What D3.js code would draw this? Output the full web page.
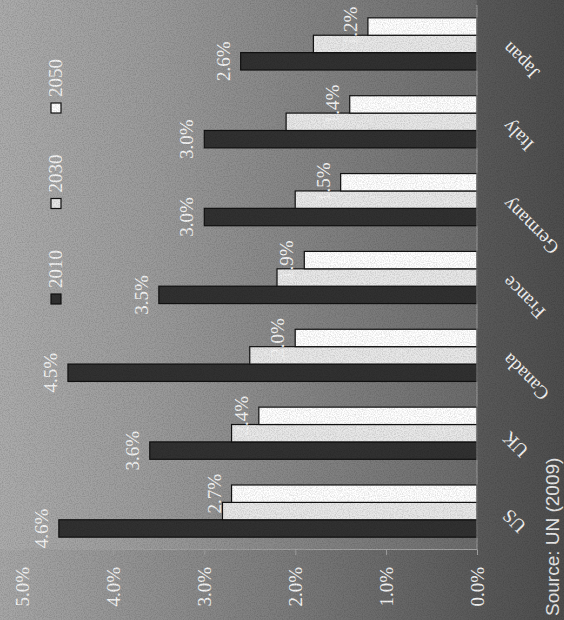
<!DOCTYPE html>
<html>
<head>
<meta charset="utf-8">
<script src="https://cdn.jsdelivr.net/npm/d3@7"></script>
<style>
  html, body { margin: 0; padding: 0; background: #777; }
  svg { display: block; }
</style>
</head>
<body>
<svg id="chart" width="564" height="620"></svg>
<script>
// ---- data ----
const categories = ["US", "UK", "Canada", "France", "Germany", "Italy", "Japan"];
const seriesNames = ["2010", "2030", "2050"];
const values2010 = [4.6, 3.6, 4.5, 3.5, 3.0, 3.0, 2.6];
const values2030 = [2.8, 2.7, 2.5, 2.2, 2.0, 2.1, 1.8];
const values2050 = [2.7, 2.4, 2.0, 1.9, 1.5, 1.4, 1.2];
const tickValues = [0, 1, 2, 3, 4, 5];
const sourceText = "Source: UN (2009)";

const seriesValues = [values2010, values2030, values2050];
const labelledSeries = [0, 2]; // 2010 and 2050 carry data labels
const fills = ["#313131", "#e8e8e8", "#ffffff"];

// ---- layout (chart drawn in its own frame, then turned a quarter turn) ----
const W = 620, H = 564;           // unrotated frame
const svg = d3.select("#chart");
const defs = svg.append("defs");

const outerGrad = defs.append("linearGradient").attr("id", "outerGrad")
  .attr("x1", 0).attr("y1", 0).attr("x2", 0).attr("y2", 1);
[[0, "#a7a7a7"], [0.5, "#7c7c7c"], [0.84, "#5a5a5a"], [1, "#4d4d4d"]]
  .forEach(([o, c]) => outerGrad.append("stop").attr("offset", o).attr("stop-color", c));

const plotGrad = defs.append("linearGradient").attr("id", "plotGrad")
  .attr("x1", 0).attr("y1", 0).attr("x2", 0).attr("y2", 1);
[[0, "#acacac"], [0.32, "#9b9b9b"], [0.63, "#858585"], [0.84, "#777777"], [1, "#6b6b6b"]]
  .forEach(([o, c]) => plotGrad.append("stop").attr("offset", o).attr("stop-color", c));

const noise = defs.append("filter").attr("id", "noise")
  .attr("x", 0).attr("y", 0).attr("width", "100%").attr("height", "100%");
noise.append("feTurbulence").attr("type", "fractalNoise")
  .attr("baseFrequency", 0.85).attr("numOctaves", 2).attr("seed", 3).attr("result", "t");
noise.append("feColorMatrix").attr("type", "matrix")
  .attr("values", "0 0 0 0 0  0 0 0 0 0  0 0 0 0 0  0 0 0 -1.6 1.0");

// frame x runs up the screen, frame y runs to the right
const g = svg.append("g").attr("transform", `translate(0,${W}) rotate(-90)`);

g.append("rect").attr("x", 0).attr("y", 0).attr("width", W).attr("height", H)
  .attr("fill", "url(#outerGrad)");

const plot = { left: 70, right: 615, top: 0, bottom: 477 };

g.append("rect").attr("x", plot.left).attr("y", -5)
  .attr("width", W - plot.left + 5).attr("height", plot.bottom + 5)
  .attr("fill", "url(#plotGrad)");

// scales
const y = d3.scaleLinear().domain([0, 5]).range([plot.bottom, 22.5]);
const x0 = d3.scaleBand().domain(categories).range([plot.left, plot.right])
  .paddingInner(0.33).paddingOuter(0.165);
const x1 = d3.scaleBand().domain(seriesNames).range([0, x0.bandwidth()]).padding(0);

const serif = "'Liberation Serif', 'Times New Roman', Times, serif";
const textColor = "#f4f4f4";

// value axis
const yAxis = d3.axisLeft(y).tickValues(tickValues).tickSize(5).tickSizeOuter(0)
  .tickPadding(12).tickFormat(d => d.toFixed(1) + "%");
const ya = g.append("g").attr("transform", `translate(${plot.left},0)`).call(yAxis);
ya.select(".domain").attr("stroke", "#a2a2a2").attr("stroke-width", 1);
ya.selectAll(".tick line").attr("stroke", "#a2a2a2");
ya.selectAll(".tick text").attr("fill", textColor).attr("font-family", serif)
  .attr("font-size", 19);

// bars
const groups = g.append("g").selectAll("g").data(categories).join("g")
  .attr("transform", d => `translate(${x0(d)},0)`);

groups.each(function (cat, ci) {
  const grp = d3.select(this);
  seriesNames.forEach((s, si) => {
    const v = seriesValues[si][ci];
    grp.append("rect")
      .attr("x", x1(s)).attr("y", y(v))
      .attr("width", x1.bandwidth()).attr("height", y(0) - y(v))
      .attr("fill", fills[si]).attr("stroke", "#111").attr("stroke-width", 1.2);
  });
});

// data labels
groups.each(function (cat, ci) {
  const grp = d3.select(this);
  labelledSeries.forEach(si => {
    const s = seriesNames[si];
    const v = seriesValues[si][ci];
    grp.append("text")
      .attr("x", x1(s) + x1.bandwidth() / 2).attr("y", y(v) - 11)
      .attr("text-anchor", "middle")
      .attr("fill", textColor).attr("font-family", serif).attr("font-size", 19)
      .text(v.toFixed(1) + "%");
  });
});

// category axis
g.append("line").attr("x1", plot.left).attr("x2", plot.right)
  .attr("y1", plot.bottom).attr("y2", plot.bottom)
  .attr("stroke", "#9c9c9c").attr("stroke-width", 1);

g.append("g").selectAll("text").data(categories).join("text")
  .attr("transform", d => `translate(${x0(d) + x0.bandwidth() / 2 + 3},${plot.bottom + 33}) rotate(-45)`)
  .attr("text-anchor", "end")
  .attr("fill", textColor).attr("font-family", serif).attr("font-size", 19)
  .text(d => d);

// legend
const legendX = [316, 411.5, 507];
const lg = g.append("g").selectAll("g").data(seriesNames).join("g")
  .attr("transform", (d, i) => `translate(${legendX[i]},51)`);
lg.append("rect").attr("width", 10).attr("height", 10)
  .attr("fill", (d, i) => fills[i]).attr("stroke", "#111").attr("stroke-width", 1.2);
lg.append("text").attr("x", 16).attr("y", 11)
  .attr("fill", textColor).attr("font-family", serif).attr("font-size", 19)
  .text(d => d);

// source
g.append("text").attr("x", 4).attr("y", 559)
  .attr("fill", "#e8e8e8").attr("font-family", "'Liberation Sans', Arial, sans-serif")
  .attr("font-size", 19).text(sourceText);

// grain overlay
svg.append("rect").attr("width", 564).attr("height", 620)
  .attr("filter", "url(#noise)").attr("opacity", 0.18).attr("pointer-events", "none");
</script>
</body>
</html>
